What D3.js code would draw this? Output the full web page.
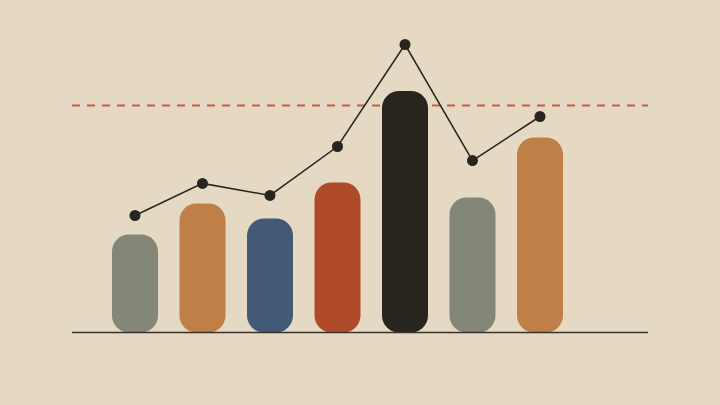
<!DOCTYPE html>
<html><head><meta charset="utf-8">
<script src="https://cdn.jsdelivr.net/npm/d3@7"></script>
<style>html,body{margin:0;padding:0;background:#e5d9c3;}svg{display:block;}</style>
</head><body>
<svg id="c" width="720" height="405"></svg>
<script>
const categories = ["A","B","C","D","E","F","G"];
const barValues = [32.7, 43, 38, 50, 80.5, 45, 65];
const lineValues = [39, 49.7, 45.7, 62, 96, 57.3, 72];
const thresholdValue = 75.7;
const barColors = ["#848777","#c07f47","#425a75","#b04b29","#28251f","#848777","#c07f47"];

const svg = d3.select("#c");
svg.append("rect").attr("width",720).attr("height",405).attr("fill","#e5d9c3");

const x = d3.scalePoint().domain(categories).range([135, 540]);
const y = d3.scaleLinear().domain([0, 100]).range([332.5, 32.5]);
const bw = 46;

svg.append("line")
  .attr("x1", 72).attr("x2", 648)
  .attr("y1", y(thresholdValue)).attr("y2", y(thresholdValue))
  .attr("stroke", "#c0603c").attr("stroke-width", 2)
  .attr("stroke-dasharray", "8,7");

svg.append("g").selectAll("rect").data(categories).join("rect")
  .attr("x", d => x(d) - bw/2)
  .attr("y", (d,i) => y(barValues[i]))
  .attr("width", bw)
  .attr("height", (d,i) => y(0) - y(barValues[i]))
  .attr("rx", 17).attr("ry", 17)
  .attr("fill", (d,i) => barColors[i]);

svg.append("line")
  .attr("x1", 72).attr("x2", 648)
  .attr("y1", y(0)).attr("y2", y(0))
  .attr("stroke", "#3a332b").attr("stroke-width", 1.5);

const line = d3.line().x((d,i) => x(categories[i])).y(d => y(d));
svg.append("path").datum(lineValues)
  .attr("d", line).attr("fill","none")
  .attr("stroke","#28251f").attr("stroke-width",1.5);

svg.append("g").selectAll("circle").data(lineValues).join("circle")
  .attr("cx", (d,i) => x(categories[i]))
  .attr("cy", d => y(d))
  .attr("r", 5.5).attr("fill","#28251f");
</script>
</body></html>
